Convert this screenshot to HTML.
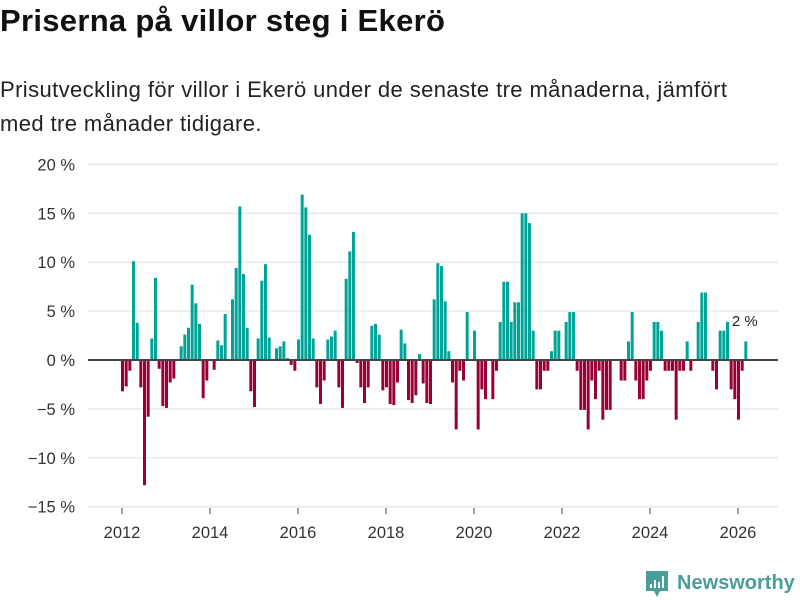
<!DOCTYPE html>
<html><head><meta charset="utf-8"><style>
body{margin:0;background:#fff;font-family:"Liberation Sans","DejaVu Sans",sans-serif;}
#wrap{position:relative;width:800px;height:600px;overflow:hidden;}
h1{position:absolute;left:0;top:3px;margin:0;font-size:31px;font-weight:bold;color:#111;letter-spacing:0.3px;}
.sub{position:absolute;left:0;top:73px;font-size:22px;line-height:34px;color:#222;width:790px;letter-spacing:0.4px;}
</style></head><body>
<div id="wrap">
<h1>Priserna på villor steg i Ekerö</h1>
<div class="sub">Prisutveckling för villor i Ekerö under de senaste tre månaderna, jämfört<br>med tre månader tidigare.</div>
<svg id="chart" width="800" height="600" style="position:absolute;left:0;top:0"></svg>
</div>
<script>
const startYear = 2012;
const yTicks = [20, 15, 10, 5, 0, -5, -10, -15];
const xTickYears = [2012, 2014, 2016, 2018, 2020, 2022, 2024, 2026];
const values = [
-3.2,-2.7,-1.1,10.1,3.8,-2.8,-12.8,-5.8,2.2,8.4,-0.9,-4.7,-4.9,-2.3,-1.9,0.1,1.4,2.6,3.3,7.7,5.8,3.7,-3.9,-2.1,0,-1.0,2.0,1.5,4.7,0.1,6.2,9.4,15.7,8.8,3.3,-3.2,-4.8,2.2,8.1,9.8,2.3,
0,
1.2,1.4,1.9,0.2,-0.5,-1.1,2.1,16.9,15.6,12.8,2.2,-2.8,-4.5,-2.1,2.1,2.4,3.0,-2.8,-4.9,8.3,11.1,13.1,-0.3,-2.8,-4.4,-2.8,3.5,3.7,2.6,-3.1,-2.8,-4.5,-4.6,-2.3,3.1,1.7,-4.1,-4.4,-3.6,0.6,
-2.4,-4.4,-4.5,6.2,9.9,9.6,6.0,0.9,-2.3,-7.1,-1.1,-2.1,4.9,0,3.0,-7.1,-3.0,-4.0,0,-4.0,-1.1,3.9,8.0,8.0,3.9,5.9,5.9,15.0,15.0,14.0,3.0,-3.0,-3.0,-1.1,-1.1,0.9,3.0,3.0,0,
3.9,4.9,4.9,-1.1,-5.1,-5.1,-7.1,-2.1,-4.0,-1.1,-6.1,-5.1,-5.1,0,0,-2.1,-2.1,1.9,4.9,-2.1,-4.0,-4.0,-2.1,-1.1,3.9,3.9,3.0,-1.1,-1.1,-1.1,-6.1,-1.1,-1.1,1.9,-1.1,0,3.9,6.9,6.9,0,-1.1,-3.0,3.0,3.0,3.9,-3.0,-4.0,-6.1,-1.1,1.9
];
const lastLabel = "2 %";

const svg = document.getElementById('chart');
const NS = 'http://www.w3.org/2000/svg';
function yS(v){ return 360 - v * 9.78; }
function xYear(y){ return 122 + (y - startYear) * 44; }
function xMonth(m){ return 122 + m * 44 / 12 + 0.5; }
function mk(tag, attrs){ const e = document.createElementNS(NS, tag); for (const k in attrs) e.setAttribute(k, attrs[k]); svg.appendChild(e); return e; }

yTicks.forEach(t => {
  const g = mk('line', {x1: 88, x2: 778, y1: yS(t), y2: yS(t), stroke: '#e0e0e0', 'stroke-width': 1});
  
  
  const lb = mk('text', {x: 75, y: yS(t) + 6, 'text-anchor': 'end', 'font-size': 16.5, fill: '#333', 'font-family': 'Liberation Sans, sans-serif'});
  lb.textContent = (t < 0 ? '\u2212' + Math.abs(t) : t) + ' %';
  
  
});
xTickYears.forEach(y => {
  const tk = mk('line', {x1: xYear(y), x2: xYear(y), y1: 508, y2: 514, stroke: '#444', 'stroke-width': 1});
  
  
  const lb = mk('text', {x: xYear(y), y: 538, 'text-anchor': 'middle', 'font-size': 16.5, fill: '#333', 'font-family': 'Liberation Sans, sans-serif'});
  lb.textContent = y;
  
  
});
values.forEach((v, m) => {
  if (v === 0) return;
  const y0 = yS(0), y1 = yS(v);
  const r = mk('rect', {x: xMonth(m) - 1.5, y: Math.min(y0, y1), width: 3, height: Math.abs(y1 - y0), fill: v > 0 ? '#00a398' : '#990038'});
  
  
});
const z = mk('line', {x1: 88, x2: 778, y1: yS(0), y2: yS(0), stroke: '#444', 'stroke-width': 2});


const ll = mk('text', {x: xMonth(values.length - 1) - 14, y: 326, 'font-size': 15, fill: '#222', 'font-family': 'Liberation Sans, sans-serif'});
ll.textContent = lastLabel;



const logo = mk('g', {});


const ic = document.createElementNS(NS, 'path');
ic.setAttribute('d', 'M646 571 h22 v20 h-8 l-3 6 l-3 -6 h-8 z');
ic.setAttribute('fill', '#4a9e97');
logo.appendChild(ic);
[[650,584,2,4],[654,580,2,8],[658,582,2,6],[662,576,2,12]].forEach(b => {
  const r = document.createElementNS(NS, 'rect');
  r.setAttribute('x', b[0]); r.setAttribute('y', b[1]); r.setAttribute('width', b[2]); r.setAttribute('height', b[3]); r.setAttribute('fill', '#fff');
  logo.appendChild(r);
});
const lt = document.createElementNS(NS, 'text');
lt.setAttribute('x', 677); lt.setAttribute('y', 589); lt.setAttribute('font-size', 20); lt.setAttribute('font-weight', 'bold'); lt.setAttribute('fill', '#4a9e97'); lt.setAttribute('font-family', 'Liberation Sans, sans-serif');
lt.textContent = 'Newsworthy';
logo.appendChild(lt);
</script>
</body></html>
